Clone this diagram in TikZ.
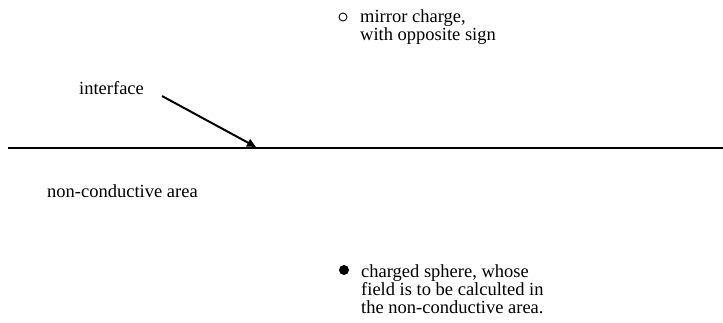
\documentclass[tikz,border=0pt]{standalone}
\usepackage{fontspec}
\setmainfont{Liberation Serif}
\usetikzlibrary{arrows.meta}
\newcommand\mylblfont{\fontsize{18.5}{18}\selectfont\lineskiplimit=-100pt\relax\lineskip=0pt\relax}
\begin{document}
\begin{tikzpicture}[x=1pt,y=-1pt,
  lbl/.style={anchor=base west,inner sep=0pt,align=left,font=\mylblfont}]
\useasboundingbox (0,0) rectangle (723,322);
\node[circle,draw,line width=0.9pt,minimum size=8pt,inner sep=0pt] (mirror) at (343,17) {};
\node[lbl] (mtext) at (360,40) {mirror charge,\\with opposite sign};
\node[lbl] (iface) at (79,94) {interface};
\coordinate (L) at (8,148);
\coordinate (R) at (723,148);
\draw[line width=2.4pt] (L) -- (R);
\coordinate (tip) at (256,147);
\coordinate (tail) at (162,96);
\draw[line width=2pt,-{Triangle[length=9pt,width=8pt]}] (tail) -- (tip);
\node[lbl] (nca) at (47,197) {non-conductive area};
\node[circle,fill,minimum size=10pt,inner sep=0pt] (sphere) at (344,270) {};
\node[lbl] (stext) at (361,313) {charged sphere, whose\\field is to be calculted in\\the non-conductive area.};
\end{tikzpicture}
\end{document}
